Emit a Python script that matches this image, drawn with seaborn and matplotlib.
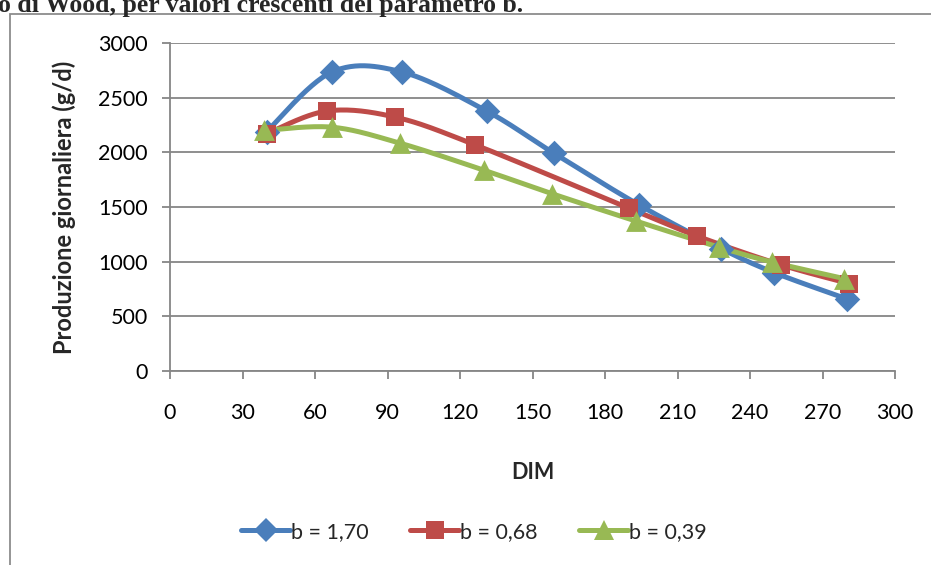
import numpy as np
import pandas as pd
import matplotlib
matplotlib.use("Agg")
import matplotlib.pyplot as plt
from matplotlib.lines import Line2D
from matplotlib.patches import Rectangle
import seaborn as sns

# Wood lactation curves for three values of parameter b
dim_b170 = [40, 67, 96, 131, 159, 194, 228, 250, 280]
prod_b170 = [2190, 2735, 2735, 2378, 1990, 1520, 1120, 900, 660]

dim_b068 = [40, 65, 93, 126, 190, 218, 253, 281]
prod_b068 = [2170, 2378, 2323, 2071, 1488, 1235, 970, 800]

dim_b039 = [39, 67, 95, 130, 158, 193, 227, 249, 279]
prod_b039 = [2200, 2230, 2085, 1836, 1622, 1370, 1134, 997, 845]

series_labels = ["b = 1,70", "b = 0,68", "b = 0,39"]
x_ticks = [0, 30, 60, 90, 120, 150, 180, 210, 240, 270, 300]
y_ticks = [0, 500, 1000, 1500, 2000, 2500, 3000]

colors = ["#4A7EBB", "#BE4B48", "#98B954"]
markers = ["D", "s", "^"]
msizes = [13, 13.5, 15]


def smooth(xs, ys, n=30):
    """Catmull-Rom style Bezier smoothing through the points."""
    p = np.column_stack([xs, ys]).astype(float)
    ext = np.vstack([p[0], p, p[-1]])
    out = []
    t = np.linspace(0, 1, n)[:, None]
    for i in range(len(p) - 1):
        p0, p1, p2, p3 = ext[i], ext[i + 1], ext[i + 2], ext[i + 3]
        c1 = p1 + (p2 - p0) / 6.0
        c2 = p2 - (p3 - p1) / 6.0
        seg = ((1 - t) ** 3) * p1 + 3 * ((1 - t) ** 2) * t * c1 + 3 * (1 - t) * t ** 2 * c2 + t ** 3 * p2
        out.append(seg if i == 0 else seg[1:])
    s = np.vstack(out)
    return s[:, 0], s[:, 1]


sns.set_theme(style="white")
plt.rcParams["font.family"] = ["Lato", "DejaVu Sans"]

W, H = 931, 565
fig = plt.figure(figsize=(W / 100, H / 100), dpi=100)

# outer chart frame
fig.patches.append(Rectangle((10 / W, -0.1), 1.2, 1 - 14 / H + 0.1, transform=fig.transFigure,
                             fill=False, edgecolor="#8C8C8C", linewidth=1.3))

fig.text(-2 / W, 1 - 12 / H, "o di Wood, per valori crescenti del parametro b.",
         family="Liberation Serif", fontweight="bold", fontsize=18.5, ha="left", va="baseline")

ax = fig.add_axes([170 / W, (H - 371) / H, 725 / W, 328 / H])

data = [(dim_b170, prod_b170), (dim_b068, prod_b068), (dim_b039, prod_b039)]
for (xs, ys), lab, c, m, ms in zip(data, series_labels, colors, markers, msizes):
    sx, sy = smooth(xs, ys)
    sns.lineplot(x=sx, y=sy, ax=ax, color=c, linewidth=3.6, sort=False, estimator=None)
    sns.scatterplot(x=xs, y=ys, ax=ax, color=c, marker=m, s=ms ** 2, linewidth=0, zorder=5)

ax.set_xlim(0, 300)
ax.set_ylim(0, 3000)
ax.set_xticks(x_ticks)
ax.set_yticks(y_ticks)
ax.grid(axis="y", color="#868686", linewidth=1.3)
ax.grid(axis="x", visible=False)
for side in ["top", "right"]:
    ax.spines[side].set_visible(False)
for side in ["left", "bottom"]:
    ax.spines[side].set_color("#868686")
    ax.spines[side].set_linewidth(1.3)
ax.tick_params(axis="both", direction="out", length=6, width=1.3, color="#868686",
               labelsize=15.5, labelcolor="black", bottom=True, left=True)
ax.tick_params(axis="x", pad=17)
ax.tick_params(axis="y", pad=10)

ax.set_xlabel("DIM", fontsize=15.5, fontweight="bold", labelpad=28)
ax.set_ylabel("Produzione giornaliera (g/d)", fontsize=17, fontweight="bold", labelpad=16)

handles = [Line2D([0], [0], color=c, linewidth=3.6, marker=m, markersize=ms * 0.95, markeredgewidth=0)
           for c, m, ms in zip(colors, markers, msizes)]
fig.legend(handles, series_labels, loc="center", bbox_to_anchor=(474 / W, 1 - 532 / H),
           ncol=3, frameon=False, fontsize=15.5, handlelength=2.3, columnspacing=1.9, handletextpad=0.05)

fig.savefig("out.png", dpi=100)
